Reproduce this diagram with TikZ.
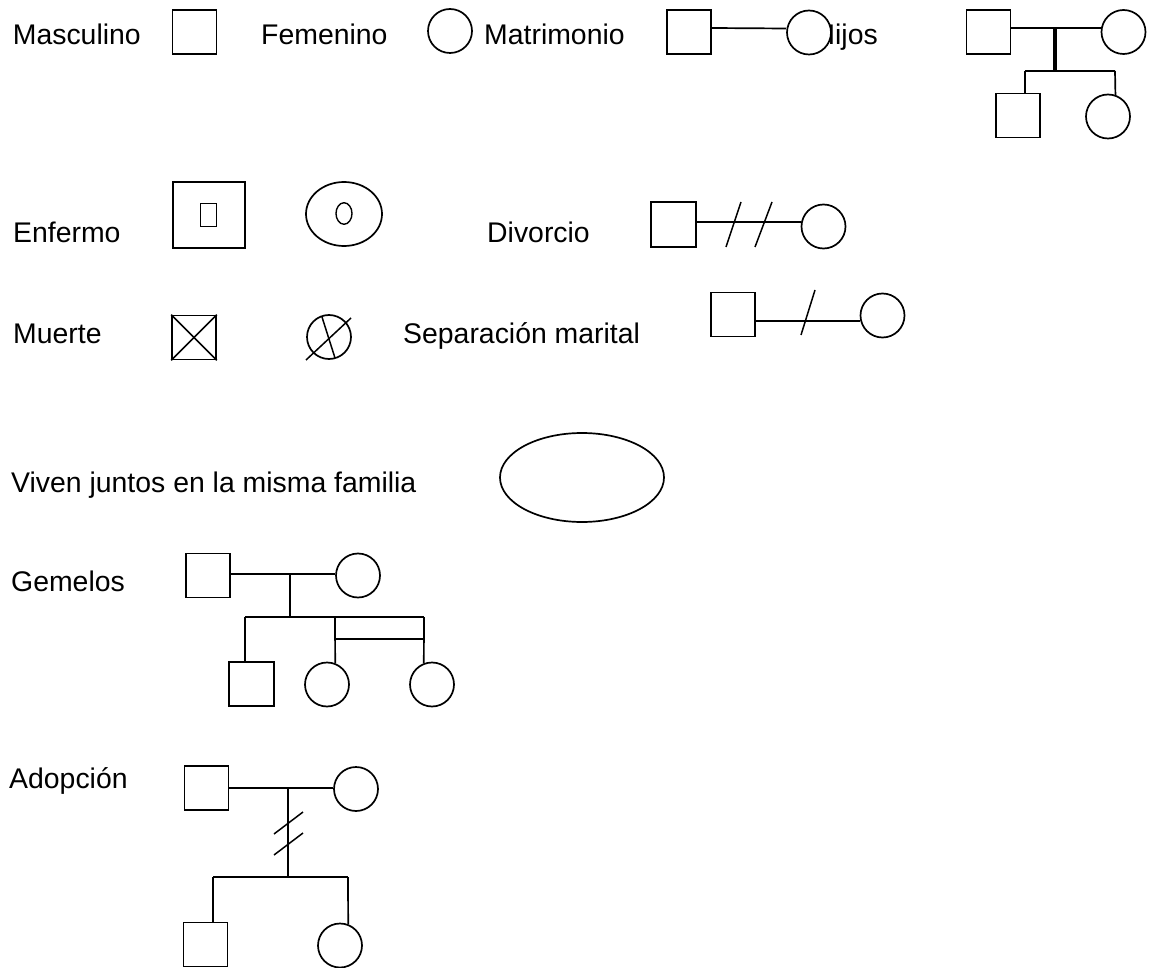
\documentclass[tikz,border=0pt]{standalone}
\usepackage{fontspec}
\setmainfont{Liberation Sans}
\usetikzlibrary{shapes.geometric}
\begin{document}
\begin{tikzpicture}[x=1pt,y=-1pt,
  male/.style={draw, rectangle, line width=1.7pt, minimum width=44pt, minimum height=44pt, inner sep=0pt, fill=white},
  female/.style={draw, circle, line width=1.7pt, minimum size=44pt, inner sep=0pt, fill=white},
  oval/.style={draw, ellipse, line width=1.7pt, inner sep=0pt},
  lbl/.style={font=\fontsize{28.4pt}{34pt}\selectfont, inner sep=0pt, anchor=base west},
  link/.style={line width=1.7pt},
  slash/.style={line width=1.5pt},
  thicklink/.style={line width=3.8pt}]
\useasboundingbox (0,0) rectangle (1154,968);

% ---- Row 1
\node[lbl] (tmasc) at (12.7,45) {Masculino};
\node[male] (masc) at (194.5,32) {};
\node[lbl] (tfem) at (261,45) {Femenino};
\node[female] (fem) at (450,31) {};
\node[lbl] (tmat) at (484,45) {Matrimonio};
\node[male] (mats) at (689,32) {};
\node[lbl, anchor=base east] (thij) at (878,45) {Hijos};
\node[female] (matc) at (809,32.5) {};
\draw[link] ([yshift=4pt]mats.east) -- ([yshift=4pt]matc.west);

% Hijos diagram
\node[male] (hs) at (988.5,32) {};
\node[female] (hc) at (1123.5,32) {};
\coordinate (hj) at (1055,28);
\coordinate (hb) at (1055,71);
\coordinate (hbl) at (1025,71);
\coordinate (hbr) at (1115,71);
\node[male] (hks) at (1018,115.5) {};
\node[female] (hkc) at (1108,116.5) {};
\draw[link] ([yshift=4pt]hs.east) -- ([yshift=4pt]hc.west);
\draw[thicklink] (hj) -- (hb);
\draw[link] (hbl) -- (hbr);
\draw[link] (hbl) -- (hbl |- hks.north);
\draw[link] (hbr) -- (hkc.71);

% ---- Enfermo
\node[lbl] (tenf) at (13,243) {Enfermo};
\node[draw, rectangle, line width=1.7pt, minimum width=72pt, minimum height=66pt, inner sep=0pt] (es) at (209,215) {};
\node[draw, rectangle, line width=1.4pt, minimum width=16pt, minimum height=23pt, inner sep=0pt] (esi) at (208.5,215) {};
\node[oval, minimum width=76pt, minimum height=64pt] (ec) at (344,214) {};
\node[oval, line width=1.4pt, minimum width=16pt, minimum height=21.5pt] (eci) at (344,213.5) {};

% ---- Divorcio
\node[lbl] (tdiv) at (487,243) {Divorcio};
\node[male, minimum width=45pt, minimum height=45pt] (ds) at (673.5,224.5) {};
\node[female] (dc) at (823.5,226.5) {};
\draw[link] ([yshift=2.5pt]ds.east) -- ([yshift=4.5pt]dc.west);
\draw[slash] (726,247) -- (741,202);
\draw[slash] (755,247) -- (772,202);

% ---- Muerte
\node[lbl] (tmu) at (13,343) {Muerte};
\node[male] (mus) at (194,337.5) {};
\draw[slash] (mus.north west) -- (mus.south east);
\draw[slash] (mus.north east) -- (mus.south west);
\node[female] (muc) at (329,337) {};
\draw[slash] (306,360) -- (351,318);
\draw[slash] (322,317) -- (335,358);

% ---- Separacion marital
\node[lbl] (tsep) at (403,343) {Separación marital};
\node[male] (ss) at (733,314.5) {};
\node[female] (sc) at (882.5,315.5) {};
\draw[link] ([yshift=-6.5pt]ss.east) -- ([yshift=-5.5pt]sc.west);
\draw[slash] (801,335) -- (815,290);

% ---- Viven juntos
\node[lbl] (tviv) at (11,492) {Viven juntos en la misma familia};
\node[oval, minimum width=164pt, minimum height=89pt] (viv) at (582,477.5) {};

% ---- Gemelos
\node[lbl] (tgem) at (11,591) {Gemelos};
\node[male] (gs) at (208,575.5) {};
\node[female] (gc) at (358,575.5) {};
\coordinate (gj) at (290,574);
\coordinate (gb) at (290,617);
\coordinate (gbl) at (245,617);
\coordinate (gbr) at (424,617);
\coordinate (gt1) at (335,617);
\coordinate (gtb1) at (335,639);
\coordinate (gtb2) at (424,639);
\node[male, minimum width=45pt, minimum height=44pt] (gks) at (251.5,684) {};
\node[female] (gkc1) at (327,684.5) {};
\node[female] (gkc2) at (432,684.5) {};
\draw[link] ([yshift=1.5pt]gs.east) -- ([yshift=1.5pt]gc.west);
\draw[link] (gj) -- (gb);
\draw[link] (gbl) -- (gbr);
\draw[line width=2.6pt] (gbl) -- (gbl |- gks.north);
\draw[link] (gt1) -- (gkc1.69);
\draw[link] (gbr) -- (gkc2.111);
\draw[link] (gtb1) -- (gtb2);

% ---- Adopcion
\node[lbl] (tado) at (9,788) {Adopción};
\node[male] (as) at (206.5,788) {};
\node[female] (ac) at (356,789) {};
\coordinate (aj) at (288,788);
\coordinate (ab) at (288,877);
\coordinate (abl) at (213,877);
\coordinate (abr) at (348,877);
\node[male] (aks) at (205.5,944.5) {};
\node[female] (akc) at (340,945.5) {};
\draw[line width=2.6pt] (as.east) -- ([yshift=1pt]ac.west);
\draw[link] (aj) -- (ab);
\draw[slash] (274,834) -- (303,812);
\draw[slash] (274,855) -- (303,833);
\draw[link] (abl) -- (abr);
\draw[link] (abl) -- (abl |- aks.north);
\draw[link] (abr) -- (akc.69);
\end{tikzpicture}
\end{document}
